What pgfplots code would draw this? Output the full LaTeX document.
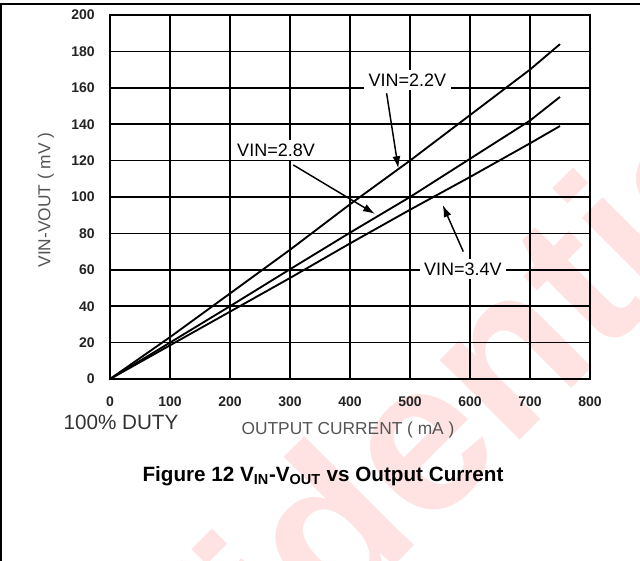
\documentclass[border=0pt]{standalone}
\usepackage{pgfplots}
\pgfplotsset{compat=1.18}
\usepackage{fontspec}
\setmainfont{Liberation Sans}
\usetikzlibrary{arrows.meta}
\definecolor{wm}{RGB}{255,226,226}
\definecolor{tickc}{RGB}{35,35,35}
\definecolor{labc}{RGB}{85,85,85}
\definecolor{dutyc}{RGB}{50,50,50}

\pgfplotstableread{
x y
0 0
100 23
200 47
300 71
400 96
500 120
600 145
700 170
750 184
}\vintwotwo
\pgfplotstableread{
x y
0 0
100 20
200 40
300 60.3
400 80.4
500 100
600 121
700 142
750 155
}\vintwoeight
\pgfplotstableread{
x y
0 0
100 18.5
200 37
300 55.5
400 74.5
500 93
600 111
700 129.5
750 139
}\vinthreefour

\begin{document}
\begin{tikzpicture}
\useasboundingbox (0,0) rectangle (480pt,-420.75pt);
\begin{scope}
\clip (0,0) rectangle (480pt,-420.75pt);
\begin{scope}[x=0.75pt,y=-0.75pt]
\node[text=wm, rotate=45, anchor=base east, inner sep=0pt, font=\fontsize{160}{160}\selectfont\bfseries] at (425,535) {Confid};
\node[text=wm, rotate=45, anchor=base west, inner sep=0pt, font=\fontsize{160}{160}\selectfont\bfseries] at (425,535) {ential};
\end{scope}
\end{scope}

\begin{axis}[
  at={(82.5pt,-284.25pt)}, anchor=south west,
  scale only axis, width=360pt, height=273pt,
  xmin=0, xmax=800, ymin=0, ymax=200,
  xtick={0,100,...,800}, ytick={0,20,...,200},
  grid=major,
  major grid style={black, line width=1.3pt},
  axis line style={black, line width=1.3pt},
  major tick length=0pt,
  tick label style={font=\fontsize{10.5}{12}\selectfont\bfseries, text=tickc},
  /pgf/number format/assume math mode=true,
  xticklabel style={anchor=center, inner sep=0pt, yshift=-17.25pt},
  yticklabel style={anchor=east, inner sep=0pt, xshift=-11.25pt},
  clip=false,
]
\addplot[black, line width=1.4pt, no marks] table[x=x,y=y] {\vintwotwo};
\addplot[black, line width=1.4pt, no marks] table[x=x,y=y] {\vintwoeight};
\addplot[black, line width=1.4pt, no marks] table[x=x,y=y] {\vinthreefour};

\node[fill=white, inner xsep=3.5pt, inner ysep=3pt, font=\fontsize{13.5}{15}\selectfont] at (axis cs:495.8,164.3) {VIN=2.2V};
\node[fill=white, inner xsep=3.5pt, inner ysep=3pt, font=\fontsize{13.5}{15}\selectfont] at (axis cs:276.7,125.8) {VIN=2.8V};
\node[fill=white, inner xsep=3.5pt, inner ysep=3pt, font=\fontsize{13.5}{15}\selectfont] at (axis cs:588.3,60.4) {VIN=3.4V};

\draw[-{Latex[length=9pt,width=6pt]}, line width=1.1pt] (axis cs:461,157) -- (axis cs:480.5,115.8);
\draw[-{Latex[length=9pt,width=6pt]}, line width=1.1pt] (axis cs:305.5,117.6) -- (axis cs:441.7,90.7);
\draw[-{Latex[length=9pt,width=6pt]}, line width=1.1pt] (axis cs:588.8,70) -- (axis cs:554.5,95.6);
\end{axis}

\begin{scope}[x=0.75pt,y=-0.75pt]
\draw[black, line width=1.8pt] (1.3,561) -- (1.3,3.7) -- (640,3.7);
\node[text=labc, font=\fontsize{13}{15}\selectfont] at (348,430) {OUTPUT CURRENT ( mA )};
\node[text=labc, rotate=90, font=\fontsize{13}{15}\selectfont] at (46,200) {VIN-VOUT ( mV )};
\node[text=dutyc, font=\fontsize{15.5}{17}\selectfont] at (121,422) {100\% DUTY};
\node[text=black, font=\fontsize{15.5}{17}\selectfont\bfseries] at (323,476) {Figure 12 V\textsubscript{IN}-V\textsubscript{OUT} vs Output Current};
\end{scope}
\end{tikzpicture}
\end{document}
